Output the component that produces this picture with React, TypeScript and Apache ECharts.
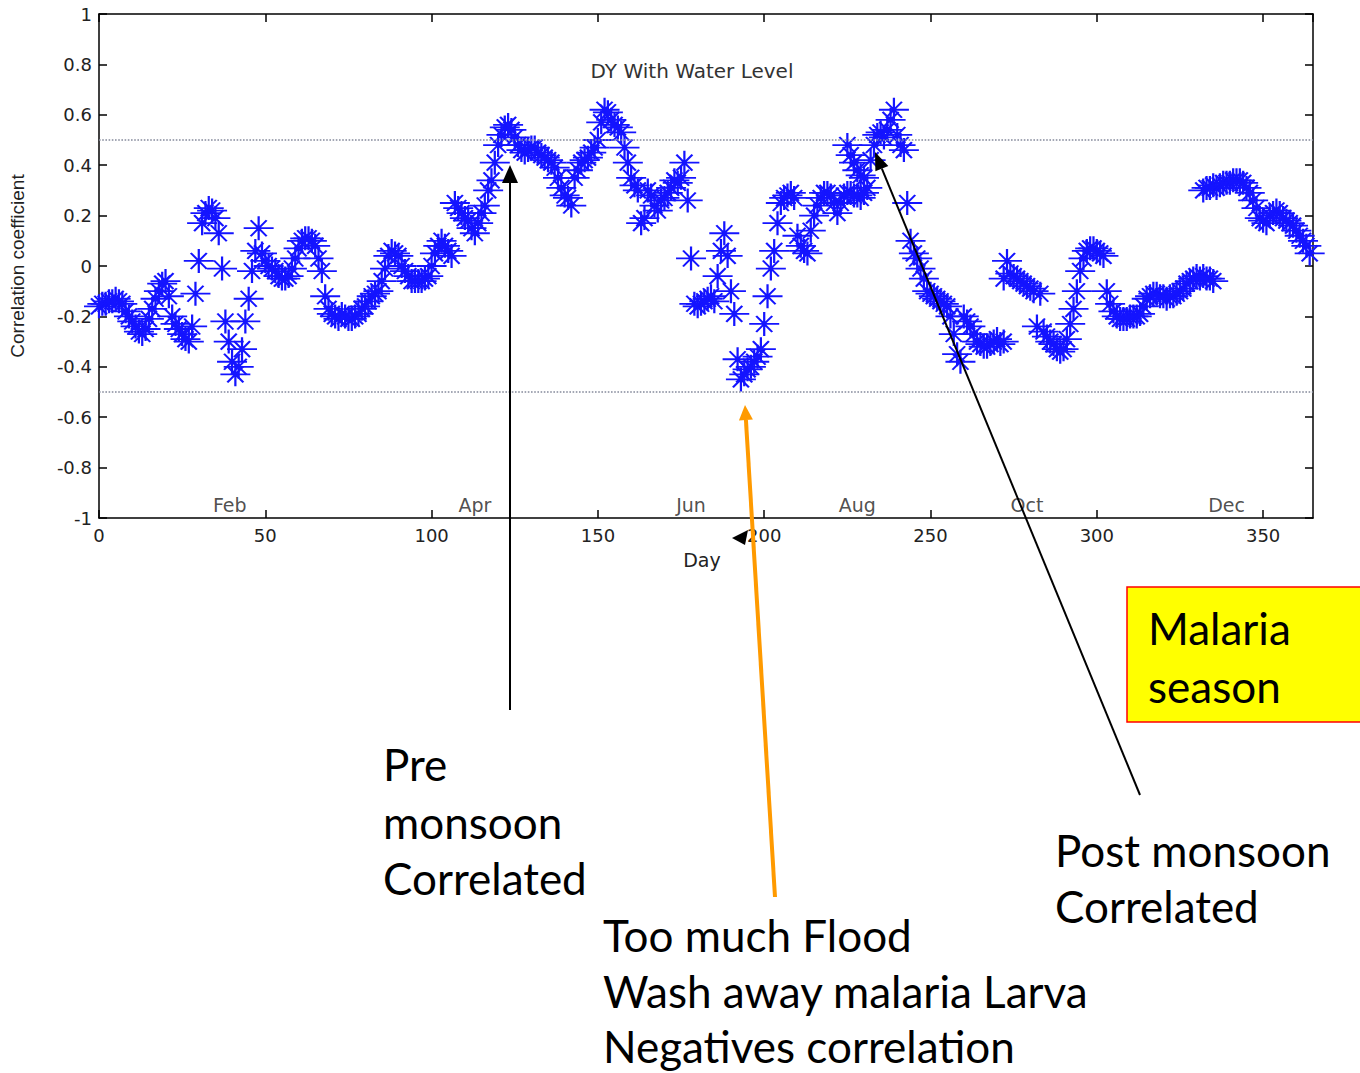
import React, { useEffect, useRef } from 'react';
import * as echarts from 'echarts';

// ---- data: [day, correlation coefficient] ----
const janFebPoints: [number, number][] = [
  [0,-0.16],[1,-0.15],[2,-0.15],[3,-0.14],[4,-0.14],[5,-0.13],[6,-0.14],[7,-0.15],[8,-0.18],[9,-0.2],
  [10,-0.22],[11,-0.24],[12,-0.26],[13,-0.27],[14,-0.25],[15,-0.21],[16,-0.17],[17,-0.13],[18,-0.1],[19,-0.07],
  [20,-0.06],[21,-0.12],[22,-0.2],[23,-0.23],[24,-0.25],[25,-0.27],[26,-0.29],[27,-0.3],[28,-0.24],[29,-0.11],
  [30,0.02],[31,0.17],[32,0.21],[33,0.23],[34,0.22],[35,0.19],[36,0.13],[37,-0.01],[38,-0.22],[39,-0.3],
  [40,-0.38],[41,-0.43],[42,-0.4],[43,-0.33],[44,-0.22],[45,-0.13],[46,-0.02],[47,0.06],[48,0.15],[49,0.05]
];
const marAprPoints: [number, number][] = [
  [50,0.02],[51,0.0],[52,-0.01],[53,-0.02],[54,-0.04],[55,-0.05],[56,-0.05],[57,-0.04],[58,-0.01],[59,0.03],
  [60,0.07],[61,0.1],[62,0.11],[63,0.11],[64,0.1],[65,0.08],[66,0.03],[67,-0.02],[68,-0.12],[69,-0.17],
  [70,-0.19],[71,-0.2],[72,-0.21],[73,-0.19],[74,-0.2],[75,-0.21],[76,-0.21],[77,-0.2],[78,-0.19],[79,-0.17],
  [80,-0.16],[81,-0.14],[82,-0.12],[83,-0.11],[84,-0.1],[85,-0.06],[86,-0.01],[87,0.04],[88,0.06],[89,0.05],
  [90,0.04],[91,0.0],[92,-0.02],[93,-0.04],[94,-0.06],[95,-0.06],[96,-0.06],[97,-0.06],[98,-0.05],[99,-0.04],
  [100,0.0],[101,0.05],[102,0.08],[103,0.1],[104,0.08],[105,0.06],[106,0.04],[107,0.25],[108,0.23],[109,0.21],
  [110,0.19],[111,0.18],[112,0.15],[113,0.13],[114,0.17],[115,0.21],[116,0.24],[117,0.3],[118,0.34],[119,0.41],
  [120,0.48],[121,0.52]
];
const mayJunPoints: [number, number][] = [
  [122,0.55],[123,0.56],[124,0.54],[125,0.51],[126,0.48],[127,0.46],[128,0.45],[129,0.46],[130,0.47],[131,0.47],
  [132,0.45],[133,0.44],[134,0.43],[135,0.42],[136,0.41],[137,0.39],[138,0.35],[139,0.31],[140,0.28],[141,0.27],
  [142,0.24],[143,0.35],[144,0.38],[145,0.41],[146,0.42],[147,0.43],[148,0.45],[149,0.47],[150,0.5],[151,0.57],
  [152,0.62],[153,0.61],[154,0.58],[155,0.56],[156,0.55],[157,0.53],[158,0.47],[159,0.41],[160,0.35],[161,0.32],
  [162,0.3],[163,0.17],[164,0.19],[165,0.3],[166,0.28],[167,0.24],[168,0.22],[169,0.26],[170,0.27],[171,0.29],
  [172,0.31],[173,0.34],[174,0.33],[175,0.35],[176,0.41],[177,0.26]
];
const julAugPoints: [number, number][] = [
  [178,0.03],[179,-0.15],[180,-0.16],[181,-0.15],[182,-0.14],[183,-0.13],[184,-0.12],[185,-0.14],[186,-0.04],[187,0.06],
  [188,0.13],[189,0.04],[190,-0.1],[191,-0.19],[192,-0.37],[193,-0.45],[194,-0.43],[195,-0.41],[196,-0.4],[197,-0.38],
  [198,-0.36],[199,-0.33],[200,-0.23],[201,-0.12],[202,-0.01],[203,0.06],[204,0.17],[205,0.25],[206,0.27],[207,0.28],
  [208,0.29],[209,0.27],[210,0.12],[211,0.08],[212,0.06],[213,0.05],[214,0.14],[215,0.2],[216,0.24],[217,0.27],
  [218,0.29],[219,0.29],[220,0.28],[221,0.25],[222,0.21],[223,0.25],[224,0.28],[225,0.29],[226,0.29],[227,0.28],
  [228,0.28],[229,0.27],[230,0.29],[231,0.31],[232,0.42],[233,0.48],[234,0.52],[235,0.53],[236,0.51],[237,0.54],
  [238,0.58],[239,0.62],[240,0.52],[241,0.48],[242,0.46],[243,0.25],[244,0.1],[245,0.05],[246,0.03],[247,-0.01],
  [248,-0.05],[249,-0.1],[250,-0.11],[251,-0.12],[252,-0.13],[253,-0.14],[254,-0.15],
  [225,0.48],[226,0.44],[227,0.41],[228,0.38],[229,0.36],[230,0.35]
];
const sepNovPoints: [number, number][] = [
  [255,-0.16],[256,-0.2],[257,-0.27],[258,-0.35],[259,-0.38],[260,-0.2],[261,-0.22],[262,-0.24],[263,-0.27],[264,-0.3],
  [265,-0.31],[266,-0.32],[267,-0.32],[268,-0.31],[269,-0.3],[270,-0.29],[271,-0.31],[272,-0.3],[272,-0.05],[273,0.02],
  [274,-0.03],[275,-0.04],[276,-0.05],[277,-0.06],[278,-0.07],[279,-0.08],[280,-0.09],[281,-0.1],[282,-0.24],[283,-0.11],
  [284,-0.26],[285,-0.28],[286,-0.3],[287,-0.31],[288,-0.33],[289,-0.34],[290,-0.33],[291,-0.29],[292,-0.23],[293,-0.17],
  [294,-0.1],[295,-0.02],[296,0.03],[297,0.06],[298,0.07],[299,0.07],[300,0.06],[301,0.05],[302,0.04],[303,-0.1],
  [304,-0.15],[305,-0.18],[306,-0.2],[307,-0.21],[308,-0.21],[309,-0.21],[310,-0.2],[311,-0.2],[312,-0.2],[313,-0.19],
  [314,-0.16],[315,-0.13],[316,-0.12],[317,-0.11],[318,-0.11],[319,-0.12],[320,-0.12],[321,-0.13],[322,-0.12],[323,-0.12],
  [324,-0.11],[325,-0.1],[326,-0.09],[327,-0.07],[328,-0.06],[329,-0.05],[330,-0.04],[331,-0.05],[332,-0.04],[333,-0.05],
  [334,-0.05],[335,-0.06]
];
const decPoints: [number, number][] = [
  [332,0.3],[333,0.31],[334,0.31],[335,0.32],[336,0.31],[337,0.32],[338,0.33],[339,0.33],[340,0.33],[341,0.34],
  [342,0.34],[343,0.34],[344,0.33],[345,0.31],[346,0.29],[347,0.26],[348,0.23],[349,0.19],[350,0.18],[351,0.17],
  [352,0.2],[353,0.21],[354,0.22],[355,0.21],[356,0.19],[357,0.18],[358,0.17],[359,0.16],[360,0.14],[361,0.12],
  [362,0.1],[363,0.08],[364,0.05]
];

const monthNames = ['Feb', 'Apr', 'Jun', 'Aug', 'Oct', 'Dec'];
const monthDays = [39.3, 113, 178, 228, 279, 339];
const monthLabelY = -0.95;
const thresholds = [0.5, -0.5];

const MFONT = "'DejaVu Sans', Arial, sans-serif";
const LFONT = "'Liberation Sans', Arial, sans-serif";
const AFONT = "Lato, 'Open Sans', sans-serif";
const STAR = 'path://M0,12L30,12M15,0L15,24M7,4L23,20M23,4L7,20';

function arrow(x1: number, y1: number, x2: number, y2: number, color: string, width: number, headLen: number, headHalf: number) {
  const dx = x2 - x1, dy = y2 - y1;
  const len = Math.sqrt(dx * dx + dy * dy);
  const ux = dx / len, uy = dy / len;
  const bx = x2 - ux * headLen, by = y2 - uy * headLen;
  const px = -uy * headHalf, py = ux * headHalf;
  return [
    { type: 'line', z: 100, shape: { x1, y1, x2: bx, y2: by }, style: { stroke: color, lineWidth: width } },
    { type: 'polygon', z: 100, shape: { points: [[x2, y2], [bx + px, by + py], [bx - px, by - py]] }, style: { fill: color } },
  ];
}

function annText(text: string, x: number, y: number, size = 44) {
  return { type: 'text', z: 100, x, y, style: { text, fontSize: size, fontFamily: AFONT, fill: '#000', align: 'left', verticalAlign: 'middle' } };
}

const allPoints = [...janFebPoints, ...marAprPoints, ...mayJunPoints, ...julAugPoints, ...sepNovPoints, ...decPoints];

const axisCommon = {
  axisLine: { show: true, onZero: false, lineStyle: { color: '#000', width: 1.5 } },
  axisTick: { show: true, inside: true, length: 8, lineStyle: { color: '#000', width: 1.5 } },
  splitLine: { show: false },
};

const option: any = {
  animation: false,
  backgroundColor: '#fff',
  grid: { left: 97, top: 14, width: 1216, height: 504 },
  xAxis: [
    {
      type: 'value', min: 0, max: 365, interval: 50, position: 'bottom', ...axisCommon,
      axisLabel: { color: '#222', fontSize: 18, fontFamily: MFONT, margin: 8, showMaxLabel: false },
      name: 'Day', nameLocation: 'middle', nameGap: 32,
      nameTextStyle: { color: '#222', fontSize: 19, fontFamily: MFONT, padding: [0, 0, 0, -8] },
    },
    {
      type: 'value', min: 0, max: 365, interval: 50, position: 'top', ...axisCommon,
      axisLabel: { show: false },
    },
  ],
  yAxis: [
    {
      type: 'value', min: -1, max: 1, interval: 0.2, position: 'left', ...axisCommon,
      axisLabel: {
        color: '#222', fontSize: 18, fontFamily: MFONT, margin: 7,
        formatter: (v: number) => String(Math.round(v * 10) / 10),
      },
      name: 'Correlation coefficient', nameLocation: 'middle', nameGap: 72, nameRotate: 90,
      nameTextStyle: { color: '#222', fontSize: 19, fontFamily: LFONT },
    },
    {
      type: 'value', min: -1, max: 1, interval: 0.2, position: 'right', ...axisCommon,
      axisLabel: { show: false },
    },
  ],
  series: [
    {
      type: 'scatter', xAxisIndex: 0, yAxisIndex: 0,
      data: allPoints,
      symbol: STAR, symbolSize: [30, 24],
      itemStyle: { color: 'rgba(0,0,0,0)', borderColor: '#1414ff', borderWidth: 2, opacity: 1 },
      markLine: {
        silent: true, symbol: 'none', label: { show: false },
        lineStyle: { type: 'dotted', color: '#858a9c', width: 1.6 },
        data: thresholds.map((t) => ({ yAxis: t })),
      },
    },
    {
      type: 'scatter', xAxisIndex: 0, yAxisIndex: 0,
      data: monthDays.map((d, i) => ({ value: [d, monthLabelY], name: monthNames[i] })),
      symbolSize: 1, itemStyle: { color: 'rgba(0,0,0,0)' },
      label: { show: true, position: 'inside', formatter: (p: any) => p.name, color: '#222', fontSize: 19, fontFamily: MFONT },
    },
  ],
  graphic: [
    { type: 'text', z: 100, x: 692, y: 71, style: { text: 'DY With Water Level', fontSize: 20, fontFamily: MFONT, fill: '#333', align: 'center', verticalAlign: 'middle' } },
    ...arrow(510, 710, 510, 165, '#000', 2, 18, 8),
    ...arrow(775, 897, 745, 405, '#ff9a00', 4, 15, 7),
    ...arrow(1140, 795, 875, 152, '#000', 2, 18, 7),
    { type: 'polygon', z: 100, shape: { points: [[732, 538], [748, 530], [745, 545]] }, style: { fill: '#000' } },
    { type: 'rect', z: 90, shape: { x: 1127, y: 587, width: 240, height: 135 }, style: { fill: '#ffff00', stroke: '#ff0000', lineWidth: 1.5 } },
    annText('Malaria', 1148, 628),
    annText('season', 1148, 686),
    annText('Pre', 383, 764),
    annText('monsoon', 383, 822),
    annText('Correlated', 383, 878),
    annText('Too much Flood', 603, 935),
    annText('Wash away malaria Larva', 603, 991),
    annText('Negatives correlation', 603, 1046),
    annText('Post monsoon', 1055, 850),
    annText('Correlated', 1055, 906),
  ],
};

export default function App() {
  const ref = useRef<HTMLDivElement>(null);
  useEffect(() => {
    const chart = echarts.init(ref.current!, null, { renderer: 'svg' });
    chart.setOption(option);
    return () => chart.dispose();
  }, []);
  return (
    <div
      ref={ref}
      style={{ position: 'absolute', left: 0, top: 0, width: 1360, height: 1073, background: '#fff' }}
    />
  );
}
